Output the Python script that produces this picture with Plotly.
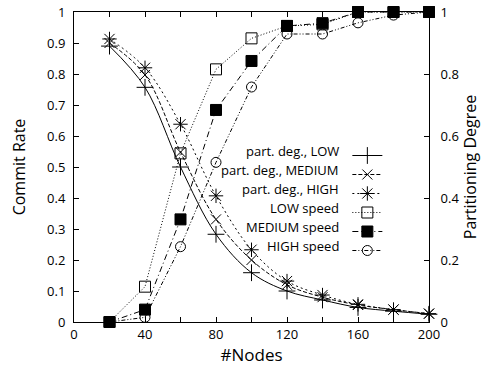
import plotly.graph_objects as go

nodes = [20, 40, 60, 80, 100, 120, 140, 160, 180, 200]

pd_low = [0.89, 0.757, 0.50, 0.283, 0.159, 0.10, 0.071, 0.047, 0.035, 0.025]
pd_medium = [0.90, 0.797, 0.548, 0.331, 0.20, 0.12, 0.08, 0.055, 0.04, 0.027]
pd_high = [0.913, 0.82, 0.638, 0.407, 0.233, 0.132, 0.087, 0.057, 0.04, 0.027]

sp_low = [0.0, 0.114, 0.544, 0.815, 0.915, 0.955, 0.96, 1.0, 1.0, 1.0]
sp_medium = [0.0, 0.04, 0.331, 0.684, 0.842, 0.955, 0.964, 1.0, 1.0, 1.0]
sp_high = [0.0, 0.015, 0.243, 0.515, 0.758, 0.929, 0.929, 0.965, 0.99, 1.0]

labels = ["part. deg., LOW", "part. deg., MEDIUM", "part. deg., HIGH",
          "LOW speed", "MEDIUM speed", "HIGH speed"]

x_tickvals = [0, 20, 40, 60, 80, 100, 120, 140, 160, 180, 200]
x_ticktext = ["0", "", "40", "", "80", "", "120", "", "160", "", "200"]
y_tickvals = [0, 0.1, 0.2, 0.3, 0.4, 0.5, 0.6, 0.7, 0.8, 0.9, 1.0]
y_ticktext = ["0", "0.1", "0.2", "0.3", "0.4", "0.5", "0.6", "0.7", "0.8", "0.9", "1"]
y2_tickvals = [0, 0.2, 0.4, 0.6, 0.8, 1.0]
y2_ticktext = ["0", "0.2", "0.4", "0.6", "0.8", "1"]

FONT = "Open Sans"
series = [
    (pd_low, "solid", "cross-thin-open", 12, "spline", "y2"),
    (pd_medium, "4px,2px", "x-thin-open", 10, "spline", "y2"),
    (pd_high, "2px,3px", "asterisk-open", 12, "spline", "y2"),
    (sp_low, "1px,2px", "square-open", 11, "linear", "y"),
    (sp_medium, "6px,3px,1px,3px", "square", 11, "linear", "y"),
    (sp_high, "4px,2px,1px,2px,1px,2px", "circle-open", 10, "linear", "y"),
]

fig = go.Figure()
for vals, dash, sym, size, shape, ax in series:
    fig.add_trace(go.Scatter(
        x=nodes, y=vals, yaxis=ax, name="",
        mode="lines+markers",
        line=dict(color="black", width=1, dash=dash, shape=shape),
        marker=dict(symbol=sym, size=size, color="black",
                    line=dict(color="black", width=1)),
        showlegend=True, cliponaxis=False,
    ))

ax_common = dict(showline=True, linecolor="black", linewidth=1, ticks="inside",
                 ticklen=5, tickcolor="black", showgrid=False, zeroline=False,
                 automargin=False, ticklabeloverflow="allow",
                 tickfont=dict(family=FONT, size=13, color="black"))

W, H = 493, 373

fig.update_layout(
    width=W, height=H,
    margin=dict(l=74, r=64, t=12, b=51),
    paper_bgcolor="white", plot_bgcolor="white",
    font=dict(family=FONT, color="black"),
    xaxis=dict(range=[0, 200], tickvals=x_tickvals, ticktext=x_ticktext,
               mirror="ticks",
               title=dict(text="#Nodes", font=dict(family=FONT, size=17), standoff=5),
               **ax_common),
    yaxis=dict(range=[0, 1], tickvals=y_tickvals, ticktext=y_ticktext,
               ticklabelstandoff=5,
               title=dict(text="Commit Rate", font=dict(family=FONT, size=16), standoff=17),
               **ax_common),
    yaxis2=dict(range=[0, 1], tickvals=y2_tickvals, ticktext=y2_ticktext,
                overlaying="y", side="right", ticklabelstandoff=8,
                title=dict(text="Partitioning Degree", font=dict(family=FONT, size=16), standoff=4),
                **ax_common),
    legend=dict(x=0.77, y=(322 - 141) / 310, xanchor="left", yanchor="top",
                bgcolor="rgba(0,0,0,0)", borderwidth=0,
                font=dict(family=FONT, size=12), itemwidth=30),
)

entry_y = [151, 170, 189, 208, 227, 246]
for lab, py in zip(labels, entry_y):
    fig.add_annotation(text=lab, xref="paper", yref="paper",
                       x=(341 - 74) / 355, y=(322 - py) / 310,
                       xanchor="right", yanchor="middle", showarrow=False,
                       font=dict(family=FONT, size=13, color="black"))

fig.write_html("out.html", config={"displayModeBar": False},
               post_script="document.body.style.margin='0';document.body.style.overflow='hidden';")
